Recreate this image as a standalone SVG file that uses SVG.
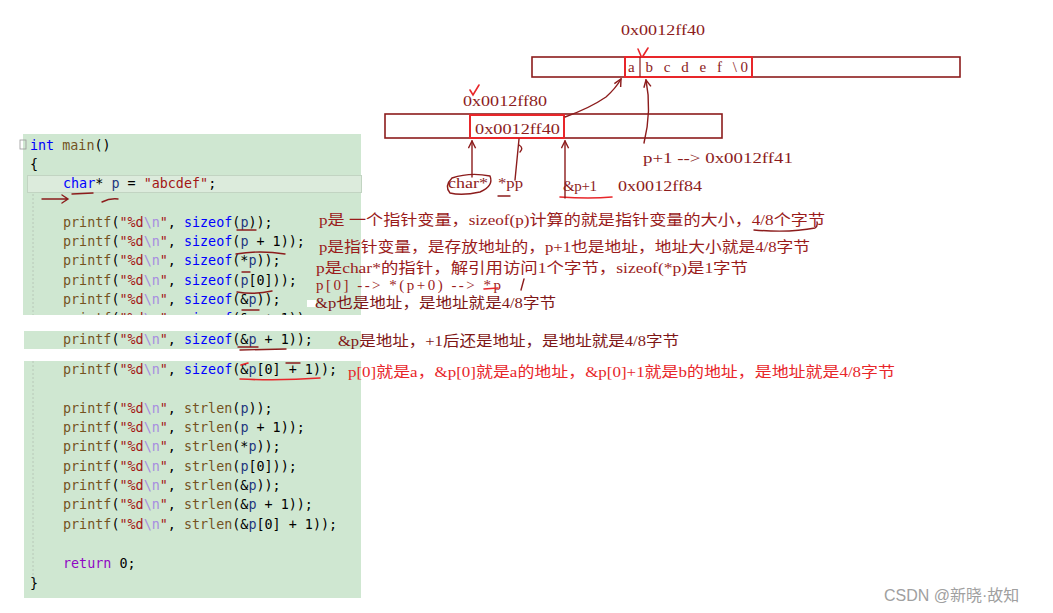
<svg xmlns="http://www.w3.org/2000/svg" width="1053" height="613" viewBox="0 0 1053 613">
<defs>
<style>
.code{font-family:"DejaVu Sans Mono","Liberation Mono",monospace;font-size:13.4px;fill:#000}
.fn{fill:#74531f}.st{fill:#a31515}.es{fill:#a88ee0}.kw{fill:#0000ff}.va{fill:#1f377f}.rt{fill:#8f08c4}
.ann{font-family:"Liberation Serif","Noto Sans CJK SC",serif;font-size:15px;fill:#9a1b1b}
.hex{font-family:"Liberation Serif","Noto Sans CJK SC",serif;font-size:15px;fill:#8c1c1c}
.bar{fill:#fff;stroke:#8c1c1c;stroke-width:1.6}
.box{fill:none;stroke:#e8262a;stroke-width:2}
.ink{fill:none;stroke:#8c1c1c;stroke-width:1.4;stroke-linecap:round}
.red{fill:none;stroke:#e8262a;stroke-width:1.6;stroke-linecap:round}
</style>
<marker id="ah" viewBox="0 0 10 10" refX="9" refY="5" markerWidth="9" markerHeight="9" orient="auto-start-reverse" markerUnits="userSpaceOnUse">
<path d="M1,1 L9,5 L1,9" fill="none" stroke="#8c1c1c" stroke-width="1.6"/>
</marker>
<clipPath id="cut"><rect x="0" y="0" width="1053" height="315"/></clipPath>
</defs>
<rect width="1053" height="613" fill="#fff"/>

<g id="code">
<rect x="23" y="134" width="338" height="181" fill="#cfe7d1"/>
<rect x="24" y="331" width="337" height="18" fill="#cfe7d1"/>
<rect x="24" y="361" width="337" height="237" fill="#cfe7d1"/>
<rect x="27.5" y="175.5" width="334" height="17" fill="#dcebdc" stroke="#c2d4c2"/>
<line x1="33" y1="194" x2="33" y2="315" stroke="#b8c8b8" stroke-dasharray="2,2"/>
<line x1="33" y1="361" x2="33" y2="580" stroke="#b8c8b8" stroke-dasharray="2,2"/>
<rect x="20" y="140" width="6" height="9" fill="none" stroke="#999" stroke-width="0.8"/>
<text class="code" x="30" y="150"><tspan class="kw">int</tspan> <tspan class="fn">main</tspan>()</text>
<text class="code" x="30" y="169">{</text>
<text class="code" x="63" y="188"><tspan class="kw">char</tspan>* <tspan class="va">p</tspan> = <tspan class="st">"abcdef"</tspan>;</text>
<text class="code" x="63" y="227"><tspan class="fn">printf</tspan>(<tspan class="st">"%d</tspan><tspan class="es">\n</tspan><tspan class="st">"</tspan>, <tspan class="kw">sizeof</tspan>(<tspan class="va">p</tspan>));</text>
<text class="code" x="63" y="246"><tspan class="fn">printf</tspan>(<tspan class="st">"%d</tspan><tspan class="es">\n</tspan><tspan class="st">"</tspan>, <tspan class="kw">sizeof</tspan>(<tspan class="va">p</tspan> + 1));</text>
<text class="code" x="63" y="265"><tspan class="fn">printf</tspan>(<tspan class="st">"%d</tspan><tspan class="es">\n</tspan><tspan class="st">"</tspan>, <tspan class="kw">sizeof</tspan>(*<tspan class="va">p</tspan>));</text>
<text class="code" x="63" y="285"><tspan class="fn">printf</tspan>(<tspan class="st">"%d</tspan><tspan class="es">\n</tspan><tspan class="st">"</tspan>, <tspan class="kw">sizeof</tspan>(<tspan class="va">p</tspan>[0]));</text>
<text class="code" x="63" y="304"><tspan class="fn">printf</tspan>(<tspan class="st">"%d</tspan><tspan class="es">\n</tspan><tspan class="st">"</tspan>, <tspan class="kw">sizeof</tspan>(&amp;<tspan class="va">p</tspan>));</text>
<text class="code" x="63" y="323" clip-path="url(#cut)"><tspan class="fn">printf</tspan>(<tspan class="st">"%d</tspan><tspan class="es">\n</tspan><tspan class="st">"</tspan>, <tspan class="kw">sizeof</tspan>(&amp;<tspan class="va">p</tspan> + 1));</text>
<text class="code" x="63" y="344"><tspan class="fn">printf</tspan>(<tspan class="st">"%d</tspan><tspan class="es">\n</tspan><tspan class="st">"</tspan>, <tspan class="kw">sizeof</tspan>(&amp;<tspan class="va">p</tspan> + 1));</text>
<text class="code" x="63" y="374"><tspan class="fn">printf</tspan>(<tspan class="st">"%d</tspan><tspan class="es">\n</tspan><tspan class="st">"</tspan>, <tspan class="kw">sizeof</tspan>(&amp;<tspan class="va">p</tspan>[0] + 1));</text>
<text class="code" x="63" y="413"><tspan class="fn">printf</tspan>(<tspan class="st">"%d</tspan><tspan class="es">\n</tspan><tspan class="st">"</tspan>, <tspan class="fn">strlen</tspan>(<tspan class="va">p</tspan>));</text>
<text class="code" x="63" y="432"><tspan class="fn">printf</tspan>(<tspan class="st">"%d</tspan><tspan class="es">\n</tspan><tspan class="st">"</tspan>, <tspan class="fn">strlen</tspan>(<tspan class="va">p</tspan> + 1));</text>
<text class="code" x="63" y="451"><tspan class="fn">printf</tspan>(<tspan class="st">"%d</tspan><tspan class="es">\n</tspan><tspan class="st">"</tspan>, <tspan class="fn">strlen</tspan>(*<tspan class="va">p</tspan>));</text>
<text class="code" x="63" y="471"><tspan class="fn">printf</tspan>(<tspan class="st">"%d</tspan><tspan class="es">\n</tspan><tspan class="st">"</tspan>, <tspan class="fn">strlen</tspan>(<tspan class="va">p</tspan>[0]));</text>
<text class="code" x="63" y="490"><tspan class="fn">printf</tspan>(<tspan class="st">"%d</tspan><tspan class="es">\n</tspan><tspan class="st">"</tspan>, <tspan class="fn">strlen</tspan>(&amp;<tspan class="va">p</tspan>));</text>
<text class="code" x="63" y="509"><tspan class="fn">printf</tspan>(<tspan class="st">"%d</tspan><tspan class="es">\n</tspan><tspan class="st">"</tspan>, <tspan class="fn">strlen</tspan>(&amp;<tspan class="va">p</tspan> + 1));</text>
<text class="code" x="63" y="529"><tspan class="fn">printf</tspan>(<tspan class="st">"%d</tspan><tspan class="es">\n</tspan><tspan class="st">"</tspan>, <tspan class="fn">strlen</tspan>(&amp;<tspan class="va">p</tspan>[0] + 1));</text>
<text class="code" x="63" y="568"><tspan class="rt">return</tspan> 0;</text>
<text class="code" x="30" y="588">}</text>
<rect x="307" y="300" width="9" height="7" fill="#fff"/>
</g>

<g id="code-marks">
<path class="ink" d="M42,199 L68,199 M62,195 L68,199 L62,203"/>
<path class="ink" d="M72,194 L93,193"/>
<path class="ink" d="M102,202 Q110,198 118,199"/>
<path class="ink" d="M237,230 L256,230"/>
<path class="ink" d="M236,254 Q260,250 285,254"/>
<path class="ink" d="M242,272 L250,272"/>
<path class="ink" d="M237,292 Q255,295 272,291"/>
<path class="ink" d="M242,310 L259,310"/>
<path class="ink" d="M238,347 L258,347 M240,350 L286,349"/>
<path class="red" d="M240,379 Q280,381 320,378"/>
<path class="red" d="M241,365 L248,363"/>
<path class="ink" d="M286,363 L300,363"/>
</g>

<g id="annotations">
<text class="ann" x="319" y="225" textLength="506" lengthAdjust="spacingAndGlyphs">p是 一个指针变量，sizeof(p)计算的就是指针变量的大小，4/8个字节</text>
<path class="ink" d="M754,230 Q790,233 815,228 Q818,226 817,222"/>
<text class="ann" x="319" y="252" textLength="491" lengthAdjust="spacingAndGlyphs">p是指针变量，是存放地址的，p+1也是地址，地址大小就是4/8字节</text>
<text class="ann" x="316" y="273" textLength="432" lengthAdjust="spacingAndGlyphs">p是char*的指针，解引用访问1个字节，sizeof(*p)是1字节</text>
<text class="ann" x="316" y="290" textLength="185" lengthAdjust="spacing">p[0] --&gt; *(p+0) --&gt; *p</text>
<path class="red" d="M484,289 L498,288"/>
<path class="ink" d="M521,290 L524,279"/>
<text class="ann" x="315" y="308" textLength="241" lengthAdjust="spacingAndGlyphs" style="fill:#7e1616">&amp;p也是地址，是地址就是4/8字节</text>
<text class="ann" x="338" y="346" textLength="341" lengthAdjust="spacingAndGlyphs" style="fill:#7e1616">&amp;p是地址，+1后还是地址，是地址就是4/8字节</text>
<text class="ann" x="348" y="377" textLength="547" lengthAdjust="spacingAndGlyphs" style="fill:#e8262a">p[0]就是a，&amp;p[0]就是a的地址，&amp;p[0]+1就是b的地址，是地址就是4/8字节</text>
</g>

<g id="string-memory">
<rect class="bar" x="532" y="57" width="428" height="20"/>
<rect class="box" x="625" y="57" width="127" height="20"/>
<line x1="640" y1="57" x2="640" y2="77" stroke="#8c1c1c" stroke-width="1.2"/>
<text class="hex" x="628" y="72" textLength="120" lengthAdjust="spacing">a b c d e f \0</text>
<text class="hex" x="621" y="35" textLength="84" lengthAdjust="spacingAndGlyphs">0x0012ff40</text>
<path class="red" d="M638,49 L641,56 M648,48 L643,56"/>
</g>

<g id="pointer-memory">
<rect class="bar" x="385" y="114" width="337" height="24"/>
<rect class="box" x="470" y="115" width="94" height="23"/>
<text class="hex" x="475" y="134" textLength="85" lengthAdjust="spacingAndGlyphs">0x0012ff40</text>
<text class="hex" x="463" y="106" textLength="84" lengthAdjust="spacingAndGlyphs">0x0012ff80</text>
<path class="red" d="M470,90 L473,95 L479,85"/>
</g>

<g id="labels">
<text class="hex" x="643" y="163" textLength="150" lengthAdjust="spacingAndGlyphs">p+1 --&gt; 0x0012ff41</text>
<text class="hex" x="448" y="188" textLength="40" lengthAdjust="spacingAndGlyphs">char*</text>
<text class="hex" x="498" y="188" textLength="25" lengthAdjust="spacingAndGlyphs">*pp</text>
<text class="hex" x="563" y="191" textLength="34" lengthAdjust="spacing" font-size="16">&amp;p+1</text>
<text class="hex" x="618" y="191" textLength="84" lengthAdjust="spacingAndGlyphs">0x0012ff84</text>
<path class="ink" d="M452,178 Q470,172 490,176 Q494,186 480,192 Q462,196 450,193 Q444,186 452,178"/>
<path class="ink" d="M498,196 L510,196"/>
<path class="red" d="M560,197 Q590,199 612,197"/>
</g>

<g id="connectors">
<path class="ink" d="M565,117 Q590,108 606,97 Q616,88 621,79" marker-end="url(#ah)"/>
<path class="ink" d="M644,143 Q652,110 646,80" marker-end="url(#ah)"/>
<path class="ink" d="M472,177 L472,141" marker-end="url(#ah)"/>
<path class="ink" d="M565,198 L565,141" marker-end="url(#ah)"/>
<path class="ink" d="M515,180 L519,139"/>
<path class="ink" d="M519,145 Q524,148 520,152"/>
</g>

<text x="884" y="601" font-family="'Liberation Sans','Noto Sans CJK SC',sans-serif" font-size="16" fill="#a0a0a0">CSDN @新晓·故知</text>
</svg>
